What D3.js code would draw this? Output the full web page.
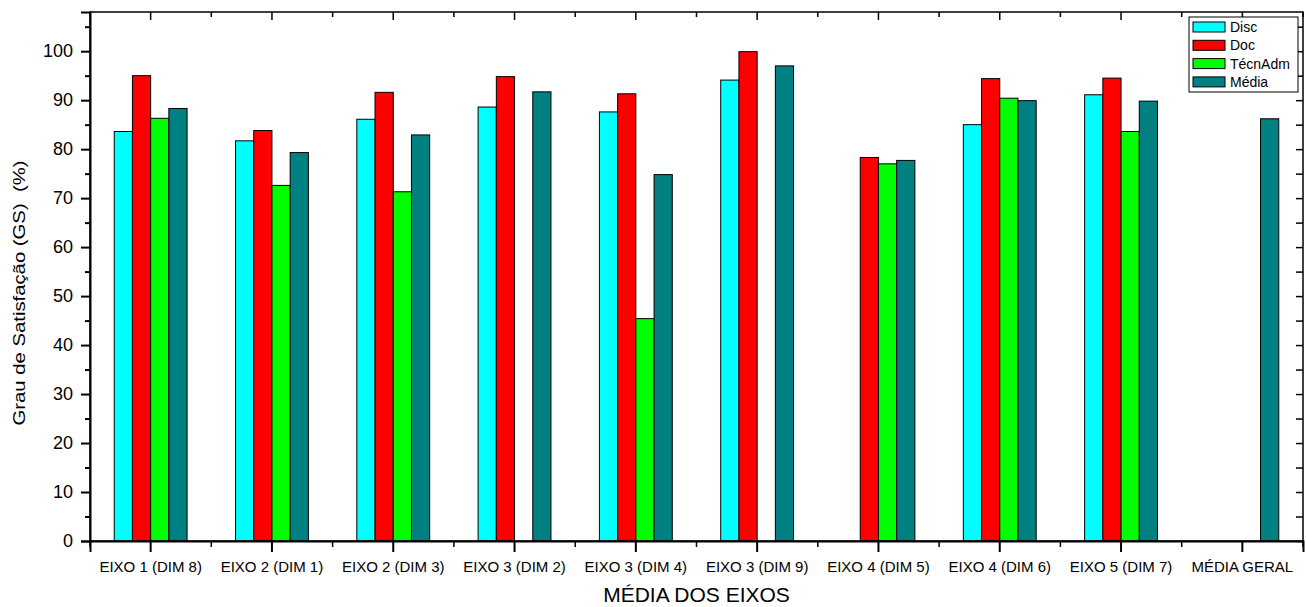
<!DOCTYPE html>
<html><head><meta charset="utf-8">
<script src="https://cdn.jsdelivr.net/npm/d3@7"></script>
<style>body{margin:0;background:#fff}svg{display:block;font-family:"Liberation Sans",Arial,sans-serif}</style>
</head><body>
<svg id="c" width="1306" height="607"></svg>
<script>
const categories = ["EIXO 1 (DIM 8)","EIXO 2 (DIM 1)","EIXO 2 (DIM 3)","EIXO 3 (DIM 2)","EIXO 3 (DIM 4)","EIXO 3 (DIM 9)","EIXO 4 (DIM 5)","EIXO 4 (DIM 6)","EIXO 5 (DIM 7)","MÉDIA GERAL"];
const seriesNames = ["Disc","Doc","TécnAdm","Média"];
const disc    = [83.6, 81.7, 86.1, 88.6, 87.6, 94.1, null, 85.0, 91.1, null];
const doc     = [95.0, 83.8, 91.6, 94.8, 91.3, 99.9, 78.3, 94.4, 94.5, null];
const tecnAdm = [86.3, 72.6, 71.3, null, 45.4, null, 77.0, 90.4, 83.6, null];
const media   = [88.3, 79.3, 82.9, 91.7, 74.8, 97.0, 77.7, 89.9, 89.8, 86.2];
const colors  = ["#00FFFF","#FF0000","#00FF00","#008080"];
const yTicks  = [0,10,20,30,40,50,60,70,80,90,100];

const FONT = "'Liberation Sans', Arial, sans-serif";
const svg = d3.select("#c");
const L = 90, R = 1303, T = 12, B = 541;
const x = d3.scaleBand().domain(categories).range([L, R]);
const y = d3.scaleLinear().domain([0, 108]).range([B, T]);
const inner = d3.scaleBand().domain(seriesNames).range([0, x.bandwidth()]).paddingOuter(1.33);
const allSeries = [disc, doc, tecnAdm, media];

// bars
allSeries.forEach((vals, si) => {
  svg.append("g").selectAll("rect")
    .data(vals.map((v, i) => ({v, c: categories[i]})).filter(d => d.v !== null))
    .join("rect")
    .attr("x", d => x(d.c) + inner(seriesNames[si]))
    .attr("width", inner.bandwidth())
    .attr("y", d => y(d.v))
    .attr("height", d => B - y(d.v))
    .attr("fill", colors[si])
    .attr("stroke", "#000").attr("stroke-width", 1);
});

// frame
svg.append("rect").attr("x", L).attr("y", T).attr("width", R - L).attr("height", B - T)
  .attr("fill", "none").attr("stroke", "#000").attr("stroke-width", 1.5);

// left axis
const minor5 = d3.range(5, 106, 10);
const gl = svg.append("g").attr("transform", `translate(${L},0)`)
  .call(d3.axisLeft(y).tickValues(yTicks).tickSize(9).tickPadding(8).tickFormat(d3.format("d")))
  .attr("font-family", FONT);
gl.select(".domain").attr("stroke-width", 2);
gl.selectAll(".tick line").attr("stroke-width", 2);
gl.selectAll("text").attr("font-size", 18).attr("fill", "#000");
svg.append("g").attr("transform", `translate(${L},0)`)
  .call(d3.axisLeft(y).tickValues(minor5).tickSize(5).tickFormat(""))
  .call(g => { g.select(".domain").remove(); g.selectAll("line").attr("stroke-width", 2); });

// right axis (inward)
svg.append("g").attr("transform", `translate(${R},0)`)
  .call(d3.axisLeft(y).tickValues(yTicks.concat(minor5)).tickSize(7).tickFormat(""))
  .call(g => { g.select(".domain").remove(); g.selectAll("line").attr("stroke-width", 1.5); });

// bottom axis
const gb = svg.append("g").attr("transform", `translate(0,${B})`)
  .call(d3.axisBottom(x).tickSize(11).tickPadding(9.5))
  .attr("font-family", FONT);
gb.select(".domain").attr("stroke-width", 2);
gb.selectAll(".tick line").attr("stroke-width", 2);
gb.selectAll("text").attr("font-size", 15).attr("fill", "#000");
const bounds = categories.map(c => x(c)).concat([R]);
svg.append("g").selectAll("line").data(bounds).join("line")
  .attr("x1", d => d).attr("x2", d => d).attr("y1", B).attr("y2", B + 6)
  .attr("stroke", "#000").attr("stroke-width", 1.5);

// top axis (inward)
svg.append("g").selectAll("line").data(categories).join("line")
  .attr("x1", d => x(d) + x.bandwidth() / 2).attr("x2", d => x(d) + x.bandwidth() / 2)
  .attr("y1", T).attr("y2", T + 8)
  .attr("stroke", "#000").attr("stroke-width", 1.5);
svg.append("g").selectAll("line").data(bounds).join("line")
  .attr("x1", d => d).attr("x2", d => d).attr("y1", T).attr("y2", T + 5)
  .attr("stroke", "#000").attr("stroke-width", 1.5);

// axis titles
svg.append("text").attr("transform", `translate(25,293) rotate(-90)`)
  .attr("text-anchor", "middle").attr("font-size", 17).style("white-space", "pre")
  .attr("textLength", 265).attr("lengthAdjust", "spacingAndGlyphs")
  .text("Grau de Satisfação (GS)  (%)");
svg.append("text").attr("x", (L + R) / 2).attr("y", 602)
  .attr("text-anchor", "middle").attr("font-size", 21).text("MÉDIA DOS EIXOS");

// legend
const lg = svg.append("g").attr("transform", "translate(1189,17)");
lg.append("rect").attr("width", 109).attr("height", 75).attr("fill", "#fff")
  .attr("stroke", "#000").attr("stroke-width", 1);
seriesNames.forEach((n, i) => {
  lg.append("rect").attr("x", 4).attr("y", 5 + i * 18.3).attr("width", 32).attr("height", 10)
    .attr("fill", colors[i]).attr("stroke", "#000").attr("stroke-width", 1);
  lg.append("text").attr("x", 41).attr("y", 15 + i * 18.3).attr("font-size", 14).text(n);
});
</script>
</body></html>
